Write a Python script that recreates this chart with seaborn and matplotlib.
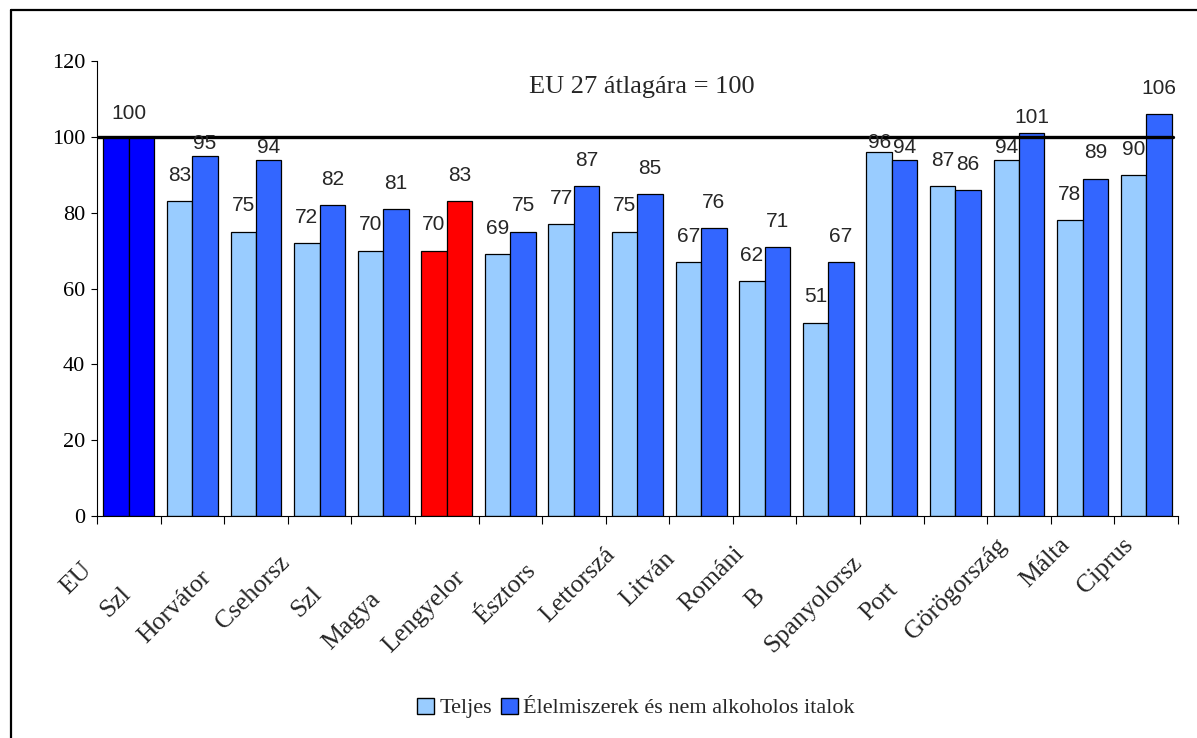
import numpy as np
import pandas as pd
import matplotlib
matplotlib.use("Agg")
import matplotlib.pyplot as plt
from matplotlib.patches import Patch
from matplotlib.lines import Line2D
import seaborn as sns

# ---------------- data ----------------
countries = ["EU-27", "Szlovákia", "Horvátország", "Csehország", "Szlovénia",
             "Magyarország", "Lengyelország", "Észtország", "Lettország",
             "Litvánia", "Románia", "Bulgária", "Spanyolország", "Portugália",
             "Görögország", "Málta", "Ciprus"]
# labels as they are visible (clipped) in the reference
tick_labels = ["EU", "Szl", "Horvátor", "Csehorsz", "Szl", "Magya", "Lengyelor",
               "Észtors", "Lettorszá", "Litván", "Románi", "B", "Spanyolorsz",
               "Port", "Görögország", "Málta", "Ciprus"]
teljes = [100, 83, 75, 72, 70, 70, 69, 77, 75, 67, 62, 51, 96, 87, 94, 78, 90]
elelmiszer = [100, 95, 94, 82, 81, 83, 75, 87, 85, 76, 71, 67, 94, 86, 101, 89, 106]
series_names = ["Teljes", "Élelmiszerek és nem alkoholos italok"]
yticks = [0, 20, 40, 60, 80, 100, 120]
reference_value = 100
note = "EU 27 átlagára = 100"
eu_name = "EU-27"
highlight_name = "Magyarország"

# ---------------- style ----------------
C_LIGHT = "#99CCFF"
C_BLUE = "#3366FF"
C_EU = "#0000FF"
C_HU = "#FF0000"
SERIF = "Liberation Serif"
SANS = "Liberation Sans"

sns.set_style("ticks")
plt.rcParams["font.family"] = [SERIF, "DejaVu Serif"]

W, H = 1197, 738
fig = plt.figure(figsize=(W / 100, H / 100), dpi=100)
ax = fig.add_axes([97 / W, 1 - 516 / H, (1178 - 97) / W, (516 - 61) / H])

df = pd.DataFrame({
    "country": countries * 2,
    "value": teljes + elelmiszer,
    "series": [series_names[0]] * len(countries) + [series_names[1]] * len(countries),
})

sns.barplot(data=df, x="country", y="value", hue="series", order=countries,
            hue_order=series_names, palette=[C_LIGHT, C_BLUE], width=0.8, gap=0,
            edgecolor="black", linewidth=0.9, saturation=1, legend=False, ax=ax,
            zorder=2)

eu_i = countries.index(eu_name)
hu_i = countries.index(highlight_name)
for cont in ax.containers:
    for i, bar in enumerate(cont):
        if i == eu_i:
            bar.set_facecolor(C_EU)
        elif i == hu_i:
            bar.set_facecolor(C_HU)

# axes
ax.set_xlim(-0.5, len(countries) - 0.5)
ax.set_ylim(yticks[0], yticks[-1])
ax.set_yticks(yticks)
ax.set_yticklabels([str(v) for v in yticks], fontsize=16, family=SERIF)
ax.set_xticks(np.arange(len(countries) + 1) - 0.5)
ax.set_xticklabels([])
ax.set_xlabel("")
ax.set_ylabel("")
ax.tick_params(axis="y", direction="out", length=4.5, width=0.8, pad=4, colors="black")
ax.tick_params(axis="x", direction="out", length=6, width=0.8, colors="black")
for s in ["top", "right"]:
    ax.spines[s].set_visible(False)
for s in ["left", "bottom"]:
    ax.spines[s].set_color("black")
    ax.spines[s].set_linewidth(0.8)

# reference line
ax.axhline(reference_value, xmin=0, xmax=0.995, color="black", lw=2.4, zorder=6)

# note
ax.text(0.504, 0.943, note, transform=ax.transAxes, ha="center", va="center",
        fontsize=19, family=SERIF)


def label_pad(v):
    # labels close to the reference line sit tighter on their bars
    if 96 <= v < 100:
        return 7
    if 93 <= v < 96:
        return 9
    if 100 < v < 103:
        return 11.5
    return 18.5


# value labels
off = 0.2
for i in range(len(countries)):
    if i == eu_i:
        ax.annotate(str(teljes[i]), (i, teljes[i]), xytext=(0, 17),
                    textcoords="offset points", ha="center", va="center",
                    fontsize=15, family=SANS, zorder=7)
        continue
    for dx, v in ((-off, teljes[i]), (off, elelmiszer[i])):
        ax.annotate(str(v), (i + dx, v), xytext=(0, label_pad(v)),
                    textcoords="offset points", ha="center", va="center",
                    fontsize=15, family=SANS, zorder=7)

# rotated category labels (clipped as in reference): fragment starts where the
# full name would start if its right end were anchored near the tick centre
fig.canvas.draw()
renderer = fig.canvas.get_renderer()
LBL_FS = 18.5
c45 = np.cos(np.pi / 4)
for i, (full, frag) in enumerate(zip(countries, tick_labels)):
    t = fig.text(0, 0, full, fontsize=LBL_FS, family=SERIF)
    w = t.get_window_extent(renderer).width
    t.remove()
    xd, yd = ax.transData.transform((i, 0))
    ex, ey = xd - 12, yd - 30
    sx, sy = ex - w * c45, ey - w * c45
    fx, fy = fig.transFigure.inverted().transform((sx, sy))
    fig.text(fx, fy, frag, fontsize=LBL_FS, family=SERIF, rotation=45,
             rotation_mode="anchor", ha="left", va="baseline")

# legend
handles = [Patch(facecolor=C_LIGHT, edgecolor="black", linewidth=1.0),
           Patch(facecolor=C_BLUE, edgecolor="black", linewidth=1.0)]
fig.legend(handles, series_names, loc="center", bbox_to_anchor=(636 / W, 1 - 708 / H),
           ncol=2, frameon=False, handlelength=0.75, handleheight=0.75,
           handletextpad=0.25, columnspacing=0.4, prop={"family": SERIF, "size": 16})

# figure border (left and top edges visible)
fig.add_artist(Line2D([11 / W, 11 / W], [0, 1 - 10 / H], transform=fig.transFigure,
                      color="black", lw=1.6))
fig.add_artist(Line2D([11 / W, 1], [1 - 10 / H, 1 - 10 / H], transform=fig.transFigure,
                      color="black", lw=1.6))

fig.savefig("out.png", dpi=100)
